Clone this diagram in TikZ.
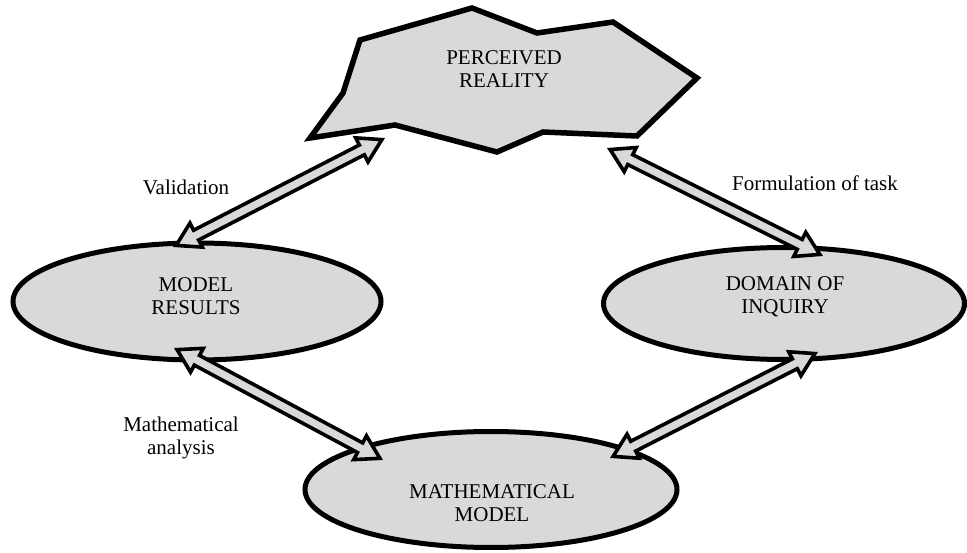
\documentclass[tikz,border=0pt]{standalone}
\usepackage{fontspec}
\setmainfont{Liberation Serif}
\usetikzlibrary{shapes.geometric,calc}
\definecolor{fillgray}{gray}{0.85}
\tikzset{
  blob/.style={draw=black, line width=5.5pt, fill=fillgray, line join=miter},
  oval/.style={ellipse, draw=black, line width=5pt, fill=fillgray, inner sep=0pt},
  nodetext/.style={font=\fontsize{21pt}{23pt}\selectfont, align=center, inner sep=0pt},
  lbl/.style={font=\fontsize{21pt}{23pt}\selectfont, align=center, inner sep=0pt},
  blockarrow/.style={draw=black, line width=3.6pt, fill=fillgray, line join=miter, miter limit=10},
}
\newcommand\dblarrow[2]{%
  \path let \p1=(#1), \p2=(#2) in \pgfextra{%
    \pgfmathsetmacro\arrangtmp{atan2(\y2-\y1,\x2-\x1)}%
    \pgfmathsetmacro\arrlentmp{veclen(\x2-\x1,\y2-\y1)}%
    \xdef\arrang{\arrangtmp}\xdef\arrlen{\arrlentmp}%
    \xdef\arrx{\x1}\xdef\arry{\y1}};
  \begin{scope}[shift={(\arrx,\arry)}, rotate=\arrang]
    \draw[blockarrow] (3.5pt,0pt) -- (26pt,13.5pt) -- (26pt,5.5pt) -- (\arrlen pt-26pt,5.5pt)
      -- (\arrlen pt-26pt,13.5pt) -- (\arrlen pt-3.5pt,0pt) -- (\arrlen pt-26pt,-13.5pt)
      -- (\arrlen pt-26pt,-5.5pt) -- (26pt,-5.5pt) -- (26pt,-13.5pt) -- cycle;
  \end{scope}}
\begin{document}
\begin{tikzpicture}[x=1pt,y=-1pt]
\useasboundingbox (0,0) rectangle (967,553);
% perceived reality
\draw[blob] (360,40) -- (472,8) -- (537,33) -- (613,22) -- (697,78) -- (637,136)
  -- (543,132) -- (497,152) -- (395,125) -- (310,138) -- (343,93) -- cycle;
\node[nodetext] (pr) at (504,69) {PERCEIVED\\REALITY};
% ellipses
\node[oval, minimum width=368pt, minimum height=117pt] (mr) at (197,301.5) {};
\node[nodetext] (mrt) at (196,296) {MODEL\\RESULTS};
\node[oval, minimum width=361pt, minimum height=112pt] (di) at (784,303.5) {};
\node[nodetext] (dit) at (785,297) {DOMAIN OF\\INQUIRY};
\node[oval, minimum width=372pt, minimum height=116pt] (mm) at (491,489.5) {};
\node[nodetext] (mmt) at (492,503) {MATHEMATICAL\\MODEL};
% arrow tips
\coordinate (a1s) at (173,247);
\coordinate (a1e) at (385,138);
\coordinate (a2s) at (607,148);
\coordinate (a2e) at (823,256);
\coordinate (a3s) at (174,348);
\coordinate (a3e) at (383,460);
\coordinate (a4s) at (818,352);
\coordinate (a4e) at (610,458);
\dblarrow{a1s}{a1e}
\dblarrow{a2s}{a2e}
\dblarrow{a3s}{a3e}
\dblarrow{a4s}{a4e}
% labels
\node[lbl, anchor=base] (val) at (186,195) {Validation};
\node[lbl, anchor=base] (form) at (815,191) {Formulation of task};
\node[lbl] (ma) at (181,438) {Mathematical\\analysis};
\end{tikzpicture}
\end{document}
